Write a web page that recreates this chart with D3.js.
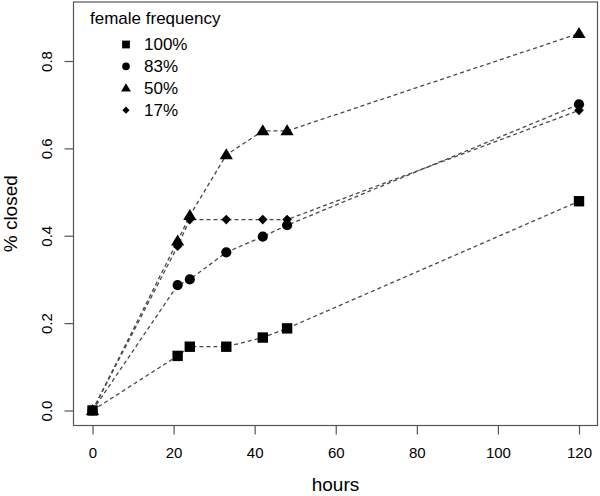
<!DOCTYPE html>
<html><head><meta charset="utf-8">
<script src="https://cdn.jsdelivr.net/npm/d3@7"></script>
<style>body{margin:0;background:#fff}svg{display:block}text{font-family:"Liberation Sans",Arial,Helvetica,sans-serif;fill:#000}</style>
</head><body><svg id="c" width="600" height="496"></svg>
<script>
const hours = [0, 21, 24, 33, 42, 48, 120];
const seriesNames = ["100%", "83%", "50%", "17%"];
const closed100 = [0, 0.125, 0.146, 0.146, 0.167, 0.188, 0.479];
const closed83  = [0, 0.287, 0.300, 0.362, 0.398, 0.424, 0.701];
const closed50  = [0, 0.388, 0.446, 0.585, 0.640, 0.640, 0.863];
const closed17  = [0, 0.376, 0.437, 0.437, 0.437, 0.437, 0.687];
const xTicks = [0, 20, 40, 60, 80, 100, 120];
const yTicks = [0, 0.2, 0.4, 0.6, 0.8];
const legendTitle = "female frequency";
const xTitle = "hours", yTitle = "% closed";

const series = [
  {name: seriesNames[0], vals: closed100, shape: "square"},
  {name: seriesNames[1], vals: closed83, shape: "circle"},
  {name: seriesNames[2], vals: closed50, shape: "triangle"},
  {name: seriesNames[3], vals: closed17, shape: "diamond"}
];

const svg = d3.select("#c");
const box = {l: 73.5, r: 597.5, t: 2, b: 425.5};
const x = d3.scaleLinear().domain([0, 120]).range([92.5, 579]);
const y = d3.scaleLinear().domain([0, 0.8]).range([410.5, 61]);

const lineCol = "#4a4a4a";
const line = d3.line().x((d, i) => x(hours[i])).y(d => y(d));
series.forEach(s => {
  svg.append("path").attr("d", line(s.vals)).attr("fill", "none")
    .attr("stroke", lineCol).attr("stroke-width", 1.3).attr("stroke-dasharray", "4,3");
});

function sym(shape, k) {
  if (shape === "square") { const h = 5.2 * k; return `M${-h},${-h}H${h}V${h}H${-h}Z`; }
  if (shape === "circle") { const r = 5.1 * k; return `M${r},0A${r},${r} 0 1,1 ${-r},0A${r},${r} 0 1,1 ${r},0Z`; }
  if (shape === "triangle") { const w = 6.6 * k, h = 11 * k; return `M0,${-h * 0.6}L${w},${h * 0.4}L${-w},${h * 0.4}Z`; }
  const d = 4.8 * k; return `M0,${-d}L${d},0L0,${d}L${-d},0Z`;
}
series.forEach(s => {
  svg.append("g").selectAll("path").data(s.vals).join("path")
    .attr("d", sym(s.shape, 1))
    .attr("transform", (d, i) => `translate(${x(hours[i])},${y(d)})`)
    .attr("fill", "#000");
});

// box
svg.append("rect").attr("x", box.l).attr("y", box.t).attr("width", box.r - box.l).attr("height", box.b - box.t)
  .attr("fill", "none").attr("stroke", "#555").attr("stroke-width", 1.2);

// x axis
const xa = svg.append("g").attr("transform", `translate(0,${box.b})`)
  .call(d3.axisBottom(x).tickValues(xTicks).tickSize(9).tickSizeOuter(0).tickPadding(13).tickFormat(d3.format("d")));
xa.select(".domain").remove();
xa.selectAll("line").attr("stroke", "#555").attr("stroke-width", 1.2);
xa.selectAll("text").style("font-size", "15px").style("font-family", "Liberation Sans, Arial, sans-serif");

// y axis
const ya = svg.append("g").attr("transform", `translate(${box.l},0)`)
  .call(d3.axisLeft(y).tickValues(yTicks).tickSize(9).tickSizeOuter(0).tickFormat(d3.format(".1f")));
ya.select(".domain").remove();
ya.selectAll("line").attr("stroke", "#555").attr("stroke-width", 1.2);
ya.selectAll("text").remove();
ya.selectAll(".tick").append("text")
  .attr("transform", "translate(-27,0) rotate(-90)")
  .attr("text-anchor", "middle").attr("dy", "0.35em")
  .style("font-size", "15px").attr("fill", "#000")
  .text(d => d3.format(".1f")(d));

svg.append("text").attr("x", (box.l + box.r) / 2).attr("y", 491).attr("text-anchor", "middle")
  .style("font-size", "19px").text(xTitle);
svg.append("text").attr("transform", `translate(17,${(box.t + box.b) / 2}) rotate(-90)`).attr("text-anchor", "middle")
  .style("font-size", "19px").text(yTitle);

// legend
svg.append("text").attr("x", 90).attr("y", 24).style("font-size", "17px").text(legendTitle);
const leg = svg.append("g").selectAll("g").data(series).join("g")
  .attr("transform", (d, i) => `translate(126,${44.5 + i * 21.9})`);
leg.append("path").attr("d", d => sym(d.shape, 0.75)).attr("fill", "#000");
leg.append("text").attr("x", 18).attr("dy", "0.35em").style("font-size", "17px").text(d => d.name);
</script></body></html>
